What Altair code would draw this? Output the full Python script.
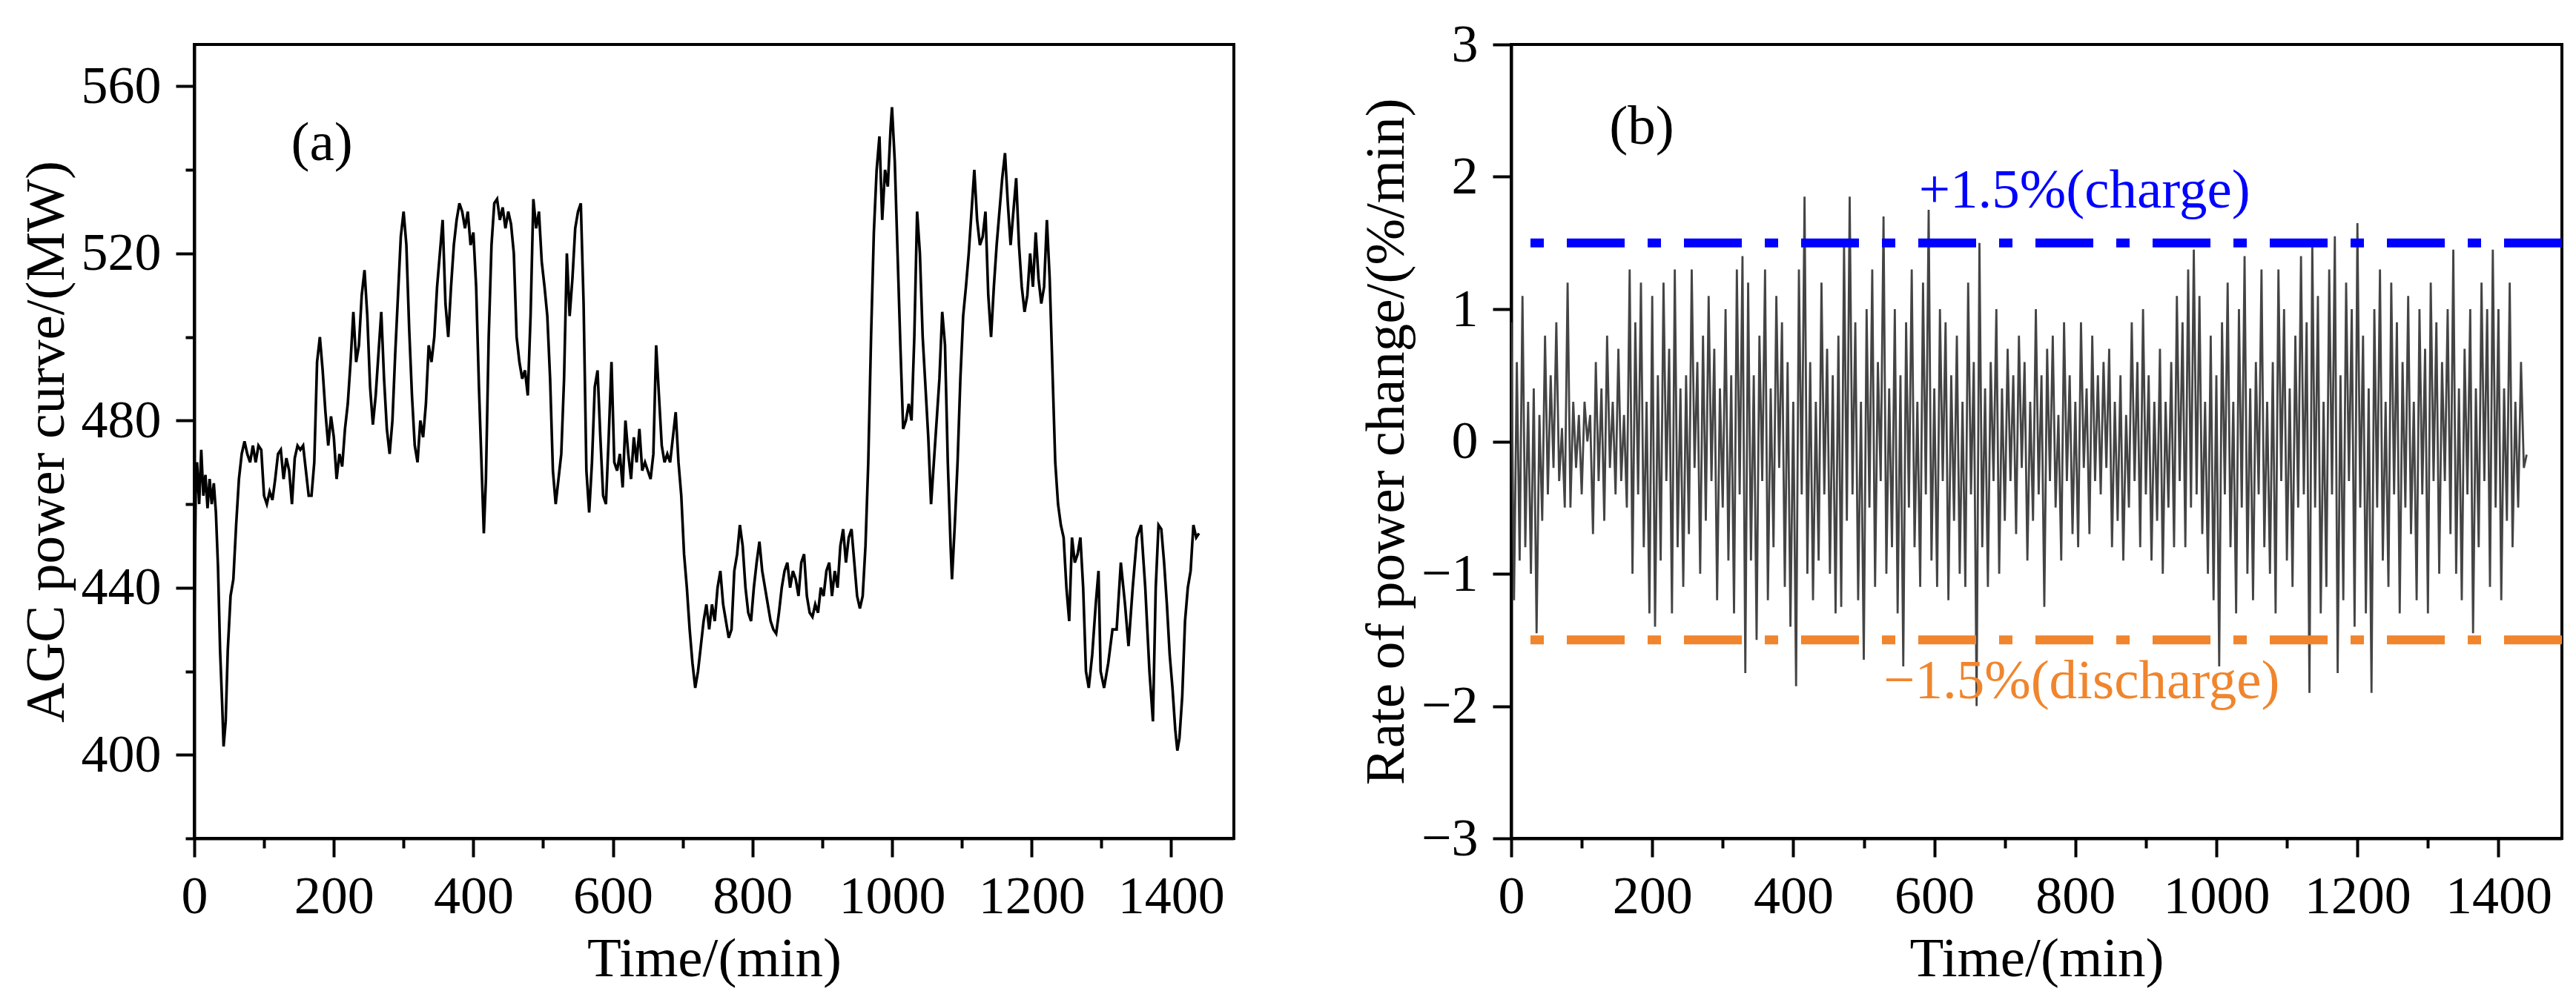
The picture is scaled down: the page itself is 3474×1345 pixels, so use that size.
import altair as alt
import pandas as pd

FONT = "Liberation Serif"

# panel (a): AGC power curve
agc_time = [
    0, 2, 4, 7, 10, 13, 16, 19, 22, 25, 28, 31, 34, 37, 40, 42, 45, 48, 52, 56,
    60, 64, 68, 72, 76, 80, 84, 88, 92, 96, 100, 104, 108, 112, 116, 120, 124, 128, 132, 136,
    140, 144, 148, 152, 156, 160, 164, 168, 172, 176, 180, 184, 188, 192, 196, 200, 204, 208, 212, 216,
    220, 224, 228, 232, 236, 240, 244, 248, 252, 256, 260, 264, 268, 272, 276, 280, 284, 288, 292, 296,
    300, 304, 308, 312, 316, 320, 324, 328, 332, 336, 340, 344, 348, 352, 356, 360, 364, 368, 372, 376,
    380, 384, 388, 392, 396, 400, 404, 408, 412, 415, 418, 422, 426, 430, 434, 438, 442, 446, 450, 454,
    458, 462, 466, 470, 474, 478, 482, 486, 490, 494, 498, 502, 506, 510, 514, 518, 522, 526, 530, 534,
    538, 542, 546, 550, 554, 558, 562, 566, 570, 574, 578, 582, 586, 590, 594, 598, 602, 606, 610, 614,
    618, 622, 626, 630, 634, 638, 642, 646, 650, 654, 658, 662, 666, 670, 674, 678, 682, 686, 690, 694,
    698, 702, 706, 710, 714, 718, 722, 726, 730, 734, 738, 742, 746, 750, 754, 758, 762, 766, 770, 774,
    778, 782, 786, 790, 794, 798, 802, 806, 810, 814, 818, 822, 826, 830, 834, 838, 842, 846, 850, 854,
    858, 862, 866, 870, 874, 878, 882, 886, 890, 894, 898, 902, 906, 910, 914, 918, 922, 926, 930, 934,
    938, 942, 946, 950, 954, 958, 962, 966, 970, 974, 978, 982, 986, 990, 994, 998, 1000, 1004, 1008, 1012,
    1016, 1020, 1024, 1028, 1032, 1036, 1040, 1044, 1048, 1052, 1056, 1060, 1064, 1068, 1072, 1076, 1080, 1084, 1086, 1090,
    1094, 1098, 1102, 1106, 1110, 1114, 1118, 1122, 1126, 1130, 1134, 1138, 1142, 1146, 1150, 1154, 1158, 1162, 1166, 1170,
    1174, 1178, 1182, 1186, 1190, 1194, 1198, 1202, 1206, 1210, 1214, 1218, 1222, 1226, 1230, 1234, 1238, 1242, 1246, 1250,
    1254, 1258, 1262, 1266, 1270, 1274, 1278, 1282, 1287, 1292, 1296, 1299, 1304, 1310, 1316, 1322, 1328, 1334, 1339, 1345,
    1351, 1357, 1363, 1369, 1374, 1378, 1382, 1386, 1390, 1394, 1398, 1402, 1406, 1409, 1412, 1416, 1420, 1424, 1428, 1432,
    1436, 1440,
]
agc_mw = [
    430, 462, 470, 460, 473, 462, 467, 459, 466, 460, 465, 458, 445, 425, 412, 402, 408, 425, 438, 442,
    455, 466, 472, 475, 472, 470, 474, 470, 474, 473, 462, 460, 463, 461, 466, 472, 473, 466, 471, 468,
    460, 471, 474, 473, 474, 468, 462, 462, 470, 494, 500, 492, 482, 474, 481, 476, 466, 472, 469, 478,
    484, 494, 506, 494, 498, 510, 516, 505, 488, 479, 486, 496, 506, 490, 478, 472, 480, 496, 510, 524,
    530, 522, 502, 486, 474, 470, 480, 476, 484, 498, 494, 500, 512, 520, 528, 508, 500, 512, 522, 528,
    532, 530, 526, 530, 522, 525, 512, 488, 468, 453, 466, 500, 522, 532, 533, 528, 531, 526, 530, 527,
    520, 500, 494, 490, 492, 486, 505, 533, 526, 530, 518, 512, 505, 490, 468, 460, 466, 472, 490, 520,
    505, 514, 526, 530, 532, 508, 468, 458, 470, 488, 492, 476, 462, 460, 476, 494, 470, 468, 472, 464,
    480, 472, 466, 476, 470, 478, 468, 470, 468, 466, 472, 498, 486, 474, 470, 472, 470, 476, 482, 470,
    462, 448, 440, 430, 422, 416, 420, 426, 432, 436, 430, 436, 432, 440, 444, 436, 432, 428, 430, 444,
    448, 455, 450, 440, 434, 432, 440, 446, 451, 444, 440, 436, 432, 430, 429, 434, 440, 444, 446, 440,
    444, 442, 438, 446, 448, 438, 434, 433, 436, 434, 440, 438, 444, 446, 438, 444, 440, 450, 454, 446,
    452, 454, 446, 438, 435, 438, 450, 470, 500, 525, 540, 548, 528, 540, 536, 550, 555, 542, 520, 498,
    478, 480, 484, 480, 500, 530, 520, 500, 488, 476, 460, 470, 480, 490, 506, 498, 470, 450, 442, 455,
    470, 490, 505, 512, 520, 530, 540, 528, 522, 524, 530, 510, 500, 512, 522, 530, 538, 544, 532, 522,
    530, 538, 522, 512, 506, 510, 520, 512, 525, 514, 508, 512, 528, 514, 492, 470, 460, 455, 452, 440,
    432, 452, 446, 448, 452, 440, 420, 416, 424, 436, 444, 420, 416, 422, 430, 430, 446, 436, 426, 440,
    452, 455, 440, 420, 408, 440, 455, 454, 446, 436, 424, 416, 406, 401, 404, 414, 432, 440, 444, 455,
    452, 453,
]

# panel (b): rate of power change, one reading every 4 min
rate_time = list(range(0, 1441, 4))
rate_value = [
    0.9, -1.2, 0.6, -0.9, 1.1, -0.8, 0.3, -1.0, 0.4, -1.45,
    0.2, -0.6, 0.8, -0.4, 0.5, -0.2, 0.9, -0.3, 0.1, -0.5,
    1.2, -0.5, 0.3, -0.2, 0.2, -0.4, 0.3, 0.0, 0.2, -0.7,
    0.6, -0.3, 0.4, -0.6, 0.8, -0.2, 0.3, -0.4, 0.7, -0.3,
    0.2, -0.5, 1.3, -1.0, 0.9, -0.4, 1.2, -0.8, 0.3, -1.3,
    1.1, -1.4, 0.5, -0.9, 1.2, -0.3, 0.7, -1.3, 1.3, -0.8,
    0.4, -1.1, 0.5, -0.7, 1.3, -0.2, 0.6, -1.0, 0.8, -0.6,
    1.1, -0.3, 0.7, -1.2, 0.4, -0.5, 1.0, -0.9, 0.5, -1.3,
    1.3, -0.4, 1.4, -1.75, 1.2, -0.9, 0.5, -1.5, 0.8, -0.3,
    1.3, -1.2, 0.4, -0.8, 1.1, -0.2, 0.9, -1.1, 0.6, -1.4,
    0.3, -1.85, 1.3, -0.4, 1.85, -1.0, 0.6, -1.2, 0.3, -0.9,
    1.2, -0.4, 0.7, -1.0, 0.5, -1.3, 0.8, -1.25, 1.5, -0.6,
    1.85, -0.4, 0.9, -1.2, 0.3, -1.65, 1.0, -0.5, 1.3, -1.1,
    0.6, -0.3, 1.7, -1.0, 0.4, -0.8, 1.0, -1.3, 0.5, -1.7,
    0.9, -0.5, 1.3, -0.8, 0.3, -1.1, 1.2, -0.4, 1.75, -0.9,
    0.4, -1.1, 1.0, -0.3, 0.9, -1.2, 0.5, -0.6, 0.8, -1.0,
    0.3, -1.1, 1.2, -0.4, 0.6, -2.0, 1.5, -0.8, 0.4, -1.1,
    0.6, -0.3, 1.0, -1.0, 0.4, -0.6, 0.7, -0.3, 0.5, -0.7,
    0.8, -0.2, 0.6, -0.9, 0.3, -0.6, 1.0, -0.4, 0.5, -1.25,
    0.7, -0.3, 0.8, -0.5, 0.2, -0.9, 0.9, -0.3, 0.5, -0.7,
    0.3, -0.8, 0.9, -0.2, 0.4, -0.7, 0.8, -0.3, 0.5, -0.4,
    0.6, -0.2, 0.7, -0.8, 0.3, -0.6, 0.5, -0.9, 0.2, -0.5,
    0.9, -0.3, 0.6, -0.8, 1.0, -0.4, 0.5, -0.9, 0.3, -0.6,
    0.7, -1.0, 0.3, -0.5, 0.6, -0.8, 1.1, -0.3, 0.9, -0.8,
    1.3, -0.5, 1.45, -0.4, 1.1, -0.7, 0.3, -1.0, 0.8, -1.2,
    0.5, -1.7, 0.9, -0.4, 1.2, -0.8, 0.3, -1.3, 1.0, -0.5,
    1.4, -1.0, 0.4, -1.2, 0.6, -0.4, 1.3, -0.8, 0.3, -1.0,
    0.6, -1.3, 1.3, -0.3, 1.0, -0.9, 0.4, -1.1, 0.8, -0.5,
    1.4, -0.4, 0.9, -1.9, 1.5, -0.5, 1.1, -1.3, 0.3, -1.1,
    1.3, -0.4, 1.55, -1.75, 0.5, -1.2, 1.2, -0.3, 1.0, -1.4,
    1.65, -0.5, 0.8, -1.3, 0.4, -1.9, 1.0, -0.5, 1.3, -0.9,
    0.3, -1.1, 1.2, -0.4, 0.9, -1.3, 0.6, -0.5, 1.1, -0.7,
    0.3, -1.2, 1.0, -0.4, 0.7, -1.3, 1.2, -0.3, 0.9, -1.0,
    0.6, -0.3, 1.0, -0.7, 1.45, -1.0, 0.4, -1.2, 0.7, -0.4,
    1.0, -1.45, 0.4, -0.8, 1.2, -0.3, 1.0, -1.1, 1.45, -0.5,
    1.0, -1.2, 0.4, -0.6, 1.2, -0.8, 0.3, -0.5, 0.6, -0.2,
    -0.1,
]

limit_value = [1.5, -1.5]
limit_name = ["charge", "discharge"]
limit_color = ["#0000ff", "#f0852d"]
limit_text = ["+1.5%(charge)", "\u22121.5%(discharge)"]
limit_text_time = [813, 809]
limit_text_value = [1.77, -1.94]

agc = pd.DataFrame({"time": agc_time, "power": agc_mw})
rate = pd.DataFrame({"time": rate_time, "rate": rate_value})
limits = pd.DataFrame({
    "name": limit_name,
    "value": limit_value,
    "text": limit_text,
    "text_time": limit_text_time,
    "text_value": limit_text_value,
})

time_scale = alt.Scale(domain=[0, 1490], nice=False, zero=False)


def time_axis():
    return alt.Axis(
        title="Time/(min)",
        format="d",
        values=list(range(0, 1500, 100)),
        labelExpr="datum.value % 200 === 0 ? datum.label : ''",
        tickSize={"condition": {"test": "datum.value % 200 === 0", "value": 25}, "value": 13},
        labelPadding=18,
        titlePadding=12,
        labelOverlap=False,
        labelFlush=False,
    )


x_a = alt.X("time:Q", scale=time_scale, axis=time_axis())
y_a = alt.Y(
    "power:Q",
    scale=alt.Scale(domain=[380, 570], nice=False, zero=False),
    axis=alt.Axis(
        title="AGC power curve/(MW)",
        format="d",
        values=list(range(380, 570, 20)),
        labelExpr="(datum.value - 400) % 40 === 0 ? datum.label : ''",
        tickSize={"condition": {"test": "(datum.value - 400) % 40 === 0", "value": 25}, "value": 12},
        labelPadding=20,
        titlePadding=8,
        labelOverlap=False,
        labelFlush=False,
    ),
)

line_a = alt.Chart(agc).mark_line(color="black", strokeWidth=3.6, clip=True).encode(x=x_a, y=y_a)
tag_a = (
    alt.Chart(pd.DataFrame({"time": [183], "power": [542.3], "t": ["(a)"]}))
    .mark_text(font=FONT, fontSize=75, align="center", baseline="alphabetic", color="black")
    .encode(x=alt.X("time:Q", scale=time_scale), y=alt.Y("power:Q"), text="t:N")
)
panel_a = alt.layer(line_a, tag_a).properties(width=1402, height=1071)

rate_scale = alt.Scale(domain=[-3, 3], nice=False, zero=False)
x_b = alt.X("time:Q", scale=time_scale, axis=time_axis())
y_b = alt.Y(
    "rate:Q",
    scale=rate_scale,
    axis=alt.Axis(
        title="Rate of power change/(%/min)",
        format="d",
        values=[v / 2 for v in range(-6, 7)],
        labelExpr="datum.value % 1 === 0 ? datum.label : ''",
        tickSize={"condition": {"test": "datum.value % 1 === 0", "value": 25}, "value": 12},
        labelPadding=20,
        titlePadding=8,
        labelOverlap=False,
        labelFlush=False,
    ),
)
color_b = alt.Color("name:N", scale=alt.Scale(domain=limit_name, range=limit_color), legend=None)

line_b = alt.Chart(rate).mark_line(color="#444444", strokeWidth=2.8, clip=True).encode(x=x_b, y=y_b)
rules_b = (
    alt.Chart(limits)
    .mark_rule(strokeWidth=12, strokeDash=[78, 31, 18, 31])
    .encode(y=alt.Y("value:Q", scale=rate_scale), color=color_b)
)
texts_b = (
    alt.Chart(limits)
    .mark_text(font=FONT, fontSize=75, align="center", baseline="alphabetic")
    .encode(
        x=alt.X("text_time:Q", scale=time_scale),
        y=alt.Y("text_value:Q", scale=rate_scale),
        text="text:N",
        color=color_b,
    )
)
tag_b = (
    alt.Chart(pd.DataFrame({"time": [185], "rate": [2.25], "t": ["(b)"]}))
    .mark_text(font=FONT, fontSize=75, align="center", baseline="alphabetic", color="black")
    .encode(x=alt.X("time:Q", scale=time_scale), y=alt.Y("rate:Q", scale=rate_scale), text="t:N")
)
panel_b = alt.layer(line_b, rules_b, texts_b, tag_b).properties(width=1417, height=1071)

chart = (
    alt.hconcat(panel_a, panel_b, spacing=164)
    .properties(padding={"left": 15, "top": 14, "right": 0, "bottom": 0}, background="white")
    .configure_view(stroke="black", strokeWidth=4)
    .configure_axis(
        grid=False,
        domainColor="black",
        domainWidth=4,
        tickColor="black",
        tickWidth=4,
        labelFont=FONT,
        labelFontSize=72,
        labelColor="black",
        titleFont=FONT,
        titleFontSize=75,
        titleFontWeight="normal",
        titleColor="black",
    )
)

chart.save("out.html", embed_options={"renderer": "svg", "actions": False})
